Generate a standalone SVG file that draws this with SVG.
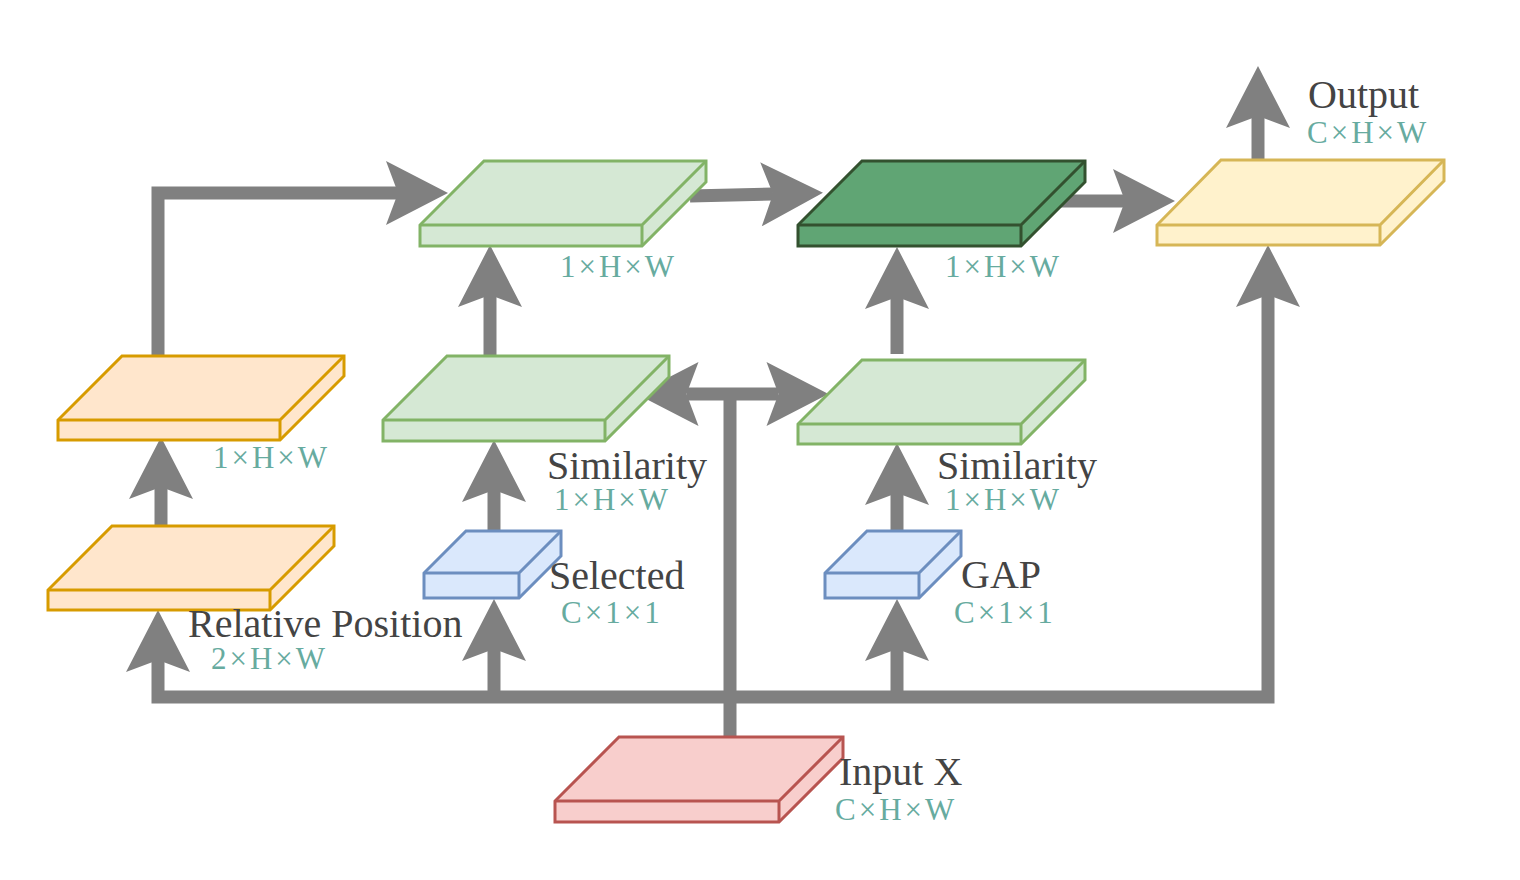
<svg xmlns="http://www.w3.org/2000/svg" width="1520" height="880" viewBox="0 0 1520 880">
<style>
.slab{stroke-width:3;stroke-linejoin:miter}
.orange{fill:#ffe6cc;stroke:#d79b00}
.green{fill:#d5e8d4;stroke:#82b366}
.dark{fill:#60a574;stroke:#33512f}
.yellow{fill:#fff2cc;stroke:#d6b656}
.blue{fill:#dae8fc;stroke:#6c8ebf}
.red{fill:#f8cecc;stroke:#b85450}
.inner{fill:none}
.conn{fill:none;stroke:#808080;stroke-width:13;stroke-linejoin:miter;stroke-linecap:butt}
.lbl{font-family:"Liberation Serif","Times New Roman",serif;font-size:40px;fill:#444444}
.dim{font-family:"Liberation Serif","Times New Roman",serif;font-size:31px;fill:#67ab9f;letter-spacing:3px}
</style>
<defs>
<marker id="arr" markerUnits="userSpaceOnUse" orient="auto" refX="0" refY="0" markerWidth="80" markerHeight="80" overflow="visible">
<path d="M50,0 L-12,-32 L0,0 L-12,32 Z" fill="#808080"/>
</marker>
</defs>
<rect width="1520" height="880" fill="#ffffff"/>

<g id="connectors">
<path class="conn" d="M730,737 V394"/>
<path class="conn" d="M730,394 H686.5" marker-end="url(#arr)"/>
<path class="conn" d="M730,394 H778.5" marker-end="url(#arr)"/>
<path class="conn" d="M730,697 H158 V660" marker-end="url(#arr)"/>
<path class="conn" d="M730,697 H1268 V295" marker-end="url(#arr)"/>
<path class="conn" d="M494,697 V649" marker-end="url(#arr)"/>
<path class="conn" d="M897,697 V649" marker-end="url(#arr)"/>
<path class="conn" d="M161,528 V487" marker-end="url(#arr)"/>
<path class="conn" d="M158,356 V193 H398" marker-end="url(#arr)"/>
<path class="conn" d="M494,531 V490" marker-end="url(#arr)"/>
<path class="conn" d="M897,531 V493" marker-end="url(#arr)"/>
<path class="conn" d="M490,356 V295" marker-end="url(#arr)"/>
<path class="conn" d="M897,354 V297" marker-end="url(#arr)"/>
<path class="conn" d="M690,196 L773,194" marker-end="url(#arr)"/>
<path class="conn" d="M1060,201 H1125" marker-end="url(#arr)"/>
<path class="conn" d="M1258,160 V116" marker-end="url(#arr)"/>
</g>

<g id="relpos-map">
<path class="slab orange" d="M122,356 H344 V376 L280,440 H58 V420 Z"/>
<path class="slab orange inner" d="M58,420 H280 L344,356 M280,420 V440"/>
<text class="dim" x="213" y="468">1×H×W</text>
</g>

<g id="relative-position">
<path class="slab orange" d="M112,526 H334 V546 L270,610 H48 V590 Z"/>
<path class="slab orange inner" d="M48,590 H270 L334,526 M270,590 V610"/>
<text class="lbl" x="188" y="637">Relative Position</text>
<text class="dim" x="211" y="669">2×H×W</text>
</g>

<g id="attn-map">
<path class="slab green" d="M484,161 H706 V182 L642,246 H420 V225 Z"/>
<path class="slab green inner" d="M420,225 H642 L706,161 M642,225 V246"/>
<text class="dim" x="560" y="277">1×H×W</text>
</g>

<g id="similarity-left">
<path class="slab green" d="M447,356 H669 V377 L605,441 H383 V420 Z"/>
<path class="slab green inner" d="M383,420 H605 L669,356 M605,420 V441"/>
<text class="lbl" x="547" y="479">Similarity</text>
<text class="dim" x="554" y="510">1×H×W</text>
</g>

<g id="fused-map">
<path class="slab dark" d="M862,161 H1085 V182 L1021,246 H798 V225 Z"/>
<path class="slab dark inner" d="M798,225 H1021 L1085,161 M1021,225 V246"/>
<text class="dim" x="945" y="277">1×H×W</text>
</g>

<g id="similarity-right">
<path class="slab green" d="M862,360 H1085 V380 L1021,444 H798 V424 Z"/>
<path class="slab green inner" d="M798,424 H1021 L1085,360 M1021,424 V444"/>
<text class="lbl" x="937" y="479">Similarity</text>
<text class="dim" x="945" y="510">1×H×W</text>
</g>

<g id="output">
<path class="slab yellow" d="M1221,160 H1444 V181 L1380,245 H1157 V225 Z"/>
<path class="slab yellow inner" d="M1157,225 H1380 L1444,160 M1380,225 V245"/>
<text class="lbl" x="1308" y="108">Output</text>
<text class="dim" x="1307" y="143">C×H×W</text>
</g>

<g id="selected">
<path class="slab blue" d="M466,531 H561 V556 L519,598 H424 V573 Z"/>
<path class="slab blue inner" d="M424,573 H519 L561,531 M519,573 V598"/>
<text class="lbl" x="549" y="589">Selected</text>
<text class="dim" x="561" y="623">C×1×1</text>
</g>

<g id="gap">
<path class="slab blue" d="M867,531 H961 V556 L919,598 H825 V573 Z"/>
<path class="slab blue inner" d="M825,573 H919 L961,531 M919,573 V598"/>
<text class="lbl" x="961" y="588">GAP</text>
<text class="dim" x="954" y="623">C×1×1</text>
</g>

<g id="input">
<path class="slab red" d="M619,737 H843 V758 L779,822 H555 V801 Z"/>
<path class="slab red inner" d="M555,801 H779 L843,737 M779,801 V822"/>
<text class="lbl" x="839" y="785">Input X</text>
<text class="dim" x="835" y="820">C×H×W</text>
</g>
</svg>
